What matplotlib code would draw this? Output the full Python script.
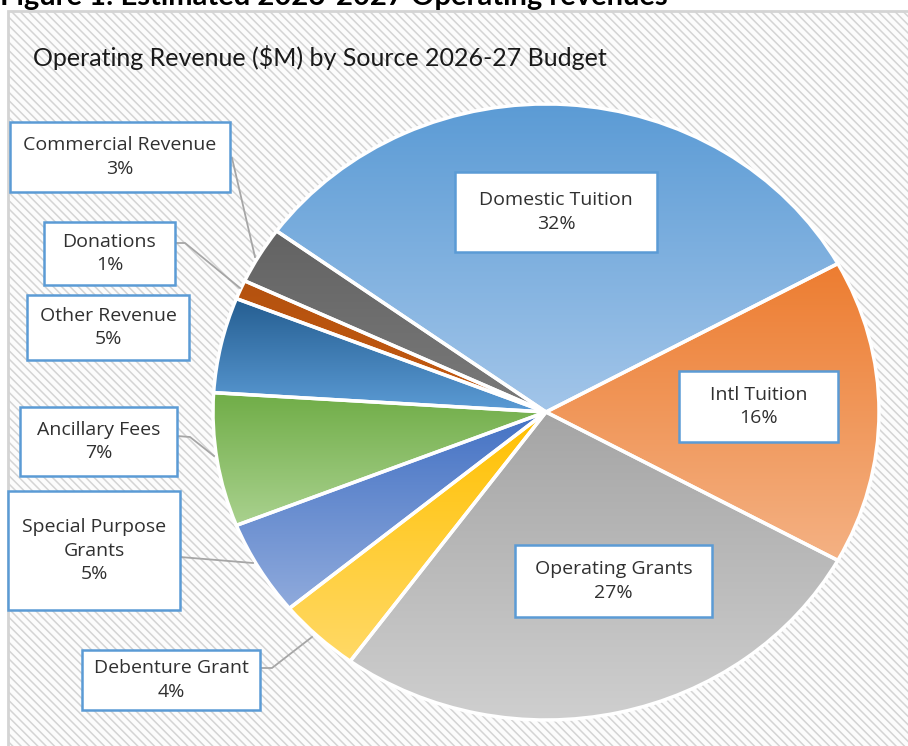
import numpy as np
import matplotlib
matplotlib.use("Agg")
import matplotlib.pyplot as plt
from matplotlib.patches import Rectangle
from matplotlib.colors import to_rgb

# revenue shares (%), clockwise from the top-left
sources = ["Domestic Tuition", "Intl Tuition", "Operating Grants", "Debenture Grant",
           "Special Purpose\nGrants", "Ancillary Fees", "Other Revenue", "Donations",
           "Commercial Revenue"]
shares = [32, 16, 27, 4, 5, 7, 5, 1, 3]

# gradient colours for each slice (top, bottom)
top_colors = ["#5B9BD5", "#ED7D31", "#A5A5A5", "#FFC000", "#4472C4",
              "#70AD47", "#255E91", "#B4520F", "#636363"]
bottom_colors = ["#A2C5E9", "#F4B183", "#CFCFCF", "#FFD966", "#8FAADC",
                 "#A9D18E", "#5B9BD5", "#C55A11", "#7A7A7A"]

W, H = 908, 746
fig = plt.figure(figsize=(W / 100, H / 100), dpi=100)
fig.patch.set_facecolor("white")

# background: hatched chart area in pixel coordinates
bg = fig.add_axes([0, 0, 1, 1])
bg.set_xlim(0, W)
bg.set_ylim(H, 0)
bg.axis("off")
plt.rcParams["hatch.linewidth"] = 1.1
plt.rcParams["hatch.color"] = "#E8E8E8"
bg.add_patch(Rectangle((8, 11), W + 20, H + 20, facecolor="#FCFCFC",
                       edgecolor="#D4D4D4", linewidth=2, hatch="\\\\\\\\"))

fig.text(0.0, 1 - 5 / H, "Figure 1: Estimated 2026-2027 Operating revenues",
         fontsize=21, fontweight="bold", family="Lato", va="baseline", ha="left")

# pie axes (slightly wider than tall)
cx, cy, rx, ry = 546, 412, 333, 308
pa = fig.add_axes([(cx - rx) / W, (H - cy - ry) / H, 2 * rx / W, 2 * ry / H])
pa.set_zorder(2)
pa.patch.set_alpha(0)
wedges, _ = pa.pie(shares, startangle=144, counterclock=False, radius=1,
                   wedgeprops=dict(facecolor="none", edgecolor="white", linewidth=2.5, zorder=3))
for w, c0, c1 in zip(wedges, top_colors, bottom_colors):
    v = w.get_path().vertices
    x0, x1 = v[:, 0].min(), v[:, 0].max()
    y0, y1 = v[:, 1].min(), v[:, 1].max()
    t = np.linspace(0, 1, 64)[:, None]
    grad = (1 - t) * np.array(to_rgb(c0)) + t * np.array(to_rgb(c1))
    im = pa.imshow(grad[:, None, :], extent=[x0, x1, y0, y1], origin="upper",
                   aspect="auto", interpolation="bilinear", zorder=2)
    im.set_clip_path(w)
pa.set_aspect("auto")
pa.set_xlim(-1, 1)
pa.set_ylim(-1, 1)
pa.axis("off")

# overlay for title, label boxes and leader lines
ov = fig.add_axes([0, 0, 1, 1])
ov.set_zorder(3)
ov.patch.set_alpha(0)
ov.set_xlim(0, W)
ov.set_ylim(H, 0)
ov.axis("off")

ov.text(33, 58, "Operating Revenue ($M) by Source 2026-27 Budget", fontsize=18,
        family="Lato", color="#1a1a1a", ha="left", va="center")

# label boxes: (x0, y0, x1, y1)
boxes = [(455, 172, 657, 252), (679, 371, 838, 442), (515, 545, 712, 617),
         (82, 650, 260, 710), (8, 491, 180, 610), (20, 407, 177, 476),
         (27, 295, 189, 360), (44, 222, 175, 285), (10, 122, 230, 192)]
leaders = [None, None, None,
           [(260, 668), (272, 668), (312, 637)],
           [(180, 557), (253, 563)],
           [(177, 436), (190, 437), (214, 456)],
           None,
           [(175, 243), (185, 243), (240, 288)],
           [(232, 158), (255, 257)]]

for name, val, (x0, y0, x1, y1), pts in zip(sources, shares, boxes, leaders):
    if pts:
        xs, ys = zip(*pts)
        ov.plot(xs, ys, color="#A6A6A6", linewidth=1.3, zorder=1)
    ov.add_patch(Rectangle((x0, y0), x1 - x0, y1 - y0, facecolor="white",
                           edgecolor="#5B9BD5", linewidth=1.8, zorder=2))
    ov.text((x0 + x1) / 2, (y0 + y1) / 2, f"{name}\n{val}%", fontsize=14,
            family="Open Sans", color="#303030", ha="center", va="center",
            linespacing=1.4, zorder=3)

fig.savefig("out.png", dpi=100)
